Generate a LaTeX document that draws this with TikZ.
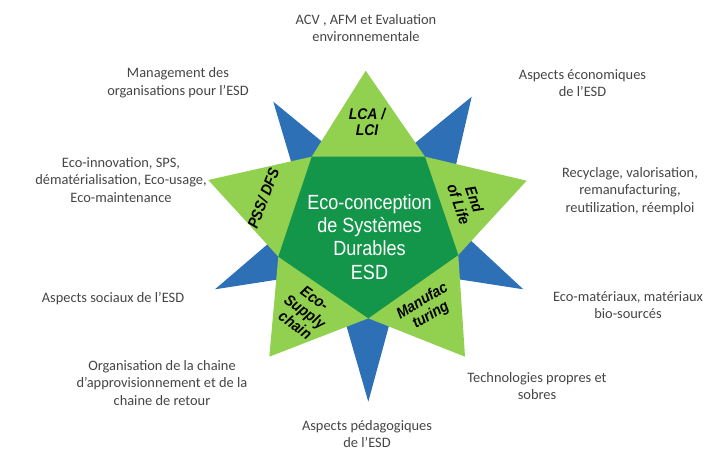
\documentclass[tikz,border=0pt]{standalone}
\usepackage{fontspec}
\setmainfont{Carlito}
\newfontfamily\narrowfont[FakeStretch=0.88]{Liberation Sans}
\newfontfamily\narrowbi[FakeStretch=0.9, UprightFont={* Bold Italic}]{Liberation Sans}
\definecolor{lightgr}{HTML}{92D050}
\definecolor{darkgr}{HTML}{14964A}
\definecolor{spike}{HTML}{2E70B6}
\definecolor{txtgray}{HTML}{454545}
\tikzset{
  lbl/.style={align=center, text=txtgray, font=\fontsize{14.4}{17.8}\selectfont, inner sep=0pt},
  ptlbl/.style={align=center, text=black, font=\narrowbi\fontsize{15.5}{16.5}\selectfont, inner sep=0pt},
  ctr/.style={align=center, text=white, font=\narrowfont\fontsize{20.5}{23.3}\selectfont, inner sep=0pt}
}
\begin{document}
\begin{tikzpicture}[x=1pt,y=-1pt]
\useasboundingbox (0,0) rectangle (706,450);
% pentagon vertices
\coordinate (p1) at (311.7,156.7);
\coordinate (p2) at (425,156.7);
\coordinate (p3) at (458.3,255);
\coordinate (p4) at (368.3,318.3);
\coordinate (p5) at (278.3,256.7);
% star tips
\coordinate (s1) at (365.7,70.7);
\coordinate (s2) at (526.7,180.7);
\coordinate (s3) at (465,356.7);
\coordinate (s4) at (269.3,356.7);
\coordinate (s5) at (208.3,180);
% blue spikes
\fill[spike] (273.3,101.7) -- (306.7,214.3) -- (366.7,178.3) -- cycle;
\fill[spike] (471.7,96.7) -- (361.7,186.7) -- (441.7,226.7) -- cycle;
\fill[spike] (523.3,289.3) -- (410,184) -- (403.3,270.7) -- cycle;
\fill[spike] (368.3,401.7) -- (325,251.7) -- (408.3,255) -- cycle;
\fill[spike] (215,289.3) -- (318.3,200.7) -- (335,270.7) -- cycle;
% light green star
\fill[lightgr] (p1) -- (s1) -- (p2) -- (s2) -- (p3) -- (s3) -- (p4) -- (s4) -- (p5) -- (s5) -- cycle;
% dark pentagon
\fill[darkgr] (p1) -- (p2) -- (p3) -- (p4) -- (p5) -- cycle;
% centre text
\node[ctr] (centre) at (369.5,237) {Eco-conception\\de Systèmes\\Durables\\ESD};
% star point labels
\node[ptlbl] (lca) at (367,122) {LCA /\\LCI};
\node[ptlbl, rotate=69] (pss) at (263.3,198.3) {PSS/ DFS};
\node[ptlbl, rotate=-71] (eol) at (466.7,201.7) {End\\of Life};
\node[ptlbl, rotate=-36] (eco) at (305,311.7) {Eco-\\Supply\\chain};
\node[ptlbl, rotate=31] (man) at (426.7,308.3) {Manufac\\turing};
% outer labels
\node[lbl] (acv) at (366,28) {ACV , AFM et Evaluation\\environnementale};
\node[lbl] (mgt) at (178,83) {Management des\\organisations pour l’ESD};
\node[lbl] (eco1) at (582.5,83) {Aspects économiques\\de l’ESD};
\node[lbl] (inno) at (121,180) {Eco-innovation, SPS,\\dématérialisation, Eco-usage,\\Eco-maintenance};
\node[lbl] (recy) at (630,191) {Recyclage, valorisation,\\remanufacturing,\\reutilization, réemploi};
\node[lbl] (soc) at (113,299) {Aspects sociaux de l’ESD};
\node[lbl] (mat) at (628,305) {Eco-matériaux, matériaux\\bio-sourcés};
\node[lbl] (org) at (162,383) {Organisation de la chaine\\d’approvisionnement et de la\\chaine de retour};
\node[lbl] (tech) at (537,386) {Technologies propres et\\sobres};
\node[lbl] (ped) at (367,434) {Aspects pédagogiques\\de l’ESD};
\end{tikzpicture}
\end{document}
